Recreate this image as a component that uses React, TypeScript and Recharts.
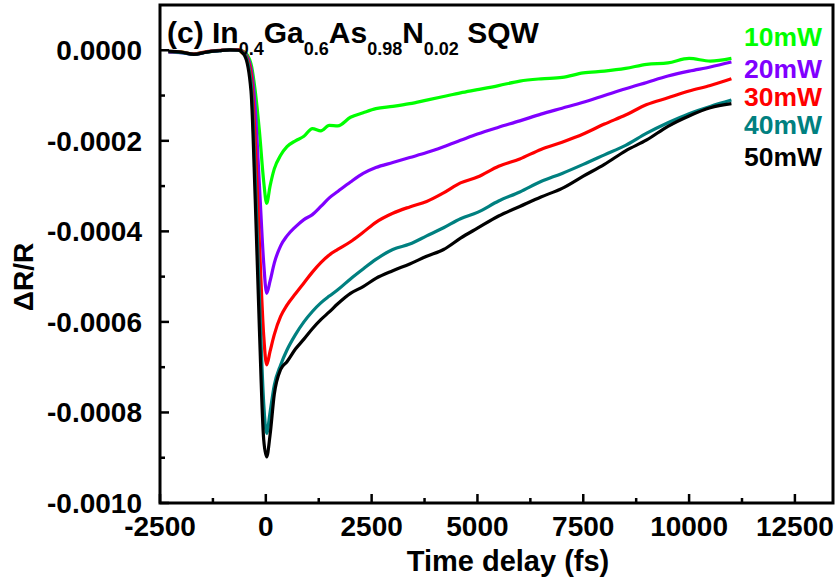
import React from 'react'
import { LineChart, Line, XAxis, YAxis, ReferenceArea } from 'recharts'

// pump-probe delay (fs)
const T = [
  -2300, -2000, -1700, -1400, -1100, -850, -650, -500, -350, -250, -150, -50, 20,
  100, 200, 350, 500, 700, 900, 1100, 1300, 1500, 1700, 2000, 2300, 2600, 3000,
  3400, 3800, 4200, 4600, 5000, 5500, 6000, 6500, 7000, 7500, 8000, 8500, 9000,
  9500, 10000, 10500, 11000,
]

// ΔR/R per pump power
const P10 = [
  -0.000003, -0.000004, -0.000008, -0.000004, -0.000001, 0.000001, 0.000001, -0.000004, -0.00003, -0.00009, -0.00018, -0.00029, -0.000338,
  -0.0003, -0.000262, -0.000232, -0.000213, -0.0002, -0.00019, -0.000173, -0.000178, -0.000166, -0.000167, -0.000148, -0.000138, -0.000129,
  -0.000124, -0.000118, -0.00011, -0.000102, -0.000094, -0.000087, -0.000078, -0.000068, -0.000063, -0.00006, -0.00005, -0.000046, -0.00004,
  -0.000031, -0.000028, -0.000018, -0.000024, -0.000018,
]
const P20 = [
  -0.000004, -0.000005, -0.000009, -0.000004, -0.000001, 0.000001, 0.000001, -0.000006, -0.00004, -0.00013, -0.0003, -0.00047, -0.000537,
  -0.00051, -0.00047, -0.000432, -0.00041, -0.00039, -0.000374, -0.000363, -0.000345, -0.000326, -0.000312, -0.000291, -0.000272, -0.000259,
  -0.000248, -0.000237, -0.000226, -0.000213, -0.000199, -0.000185, -0.00017, -0.000156, -0.000141, -0.000128, -0.000115, -0.0001, -0.000085,
  -0.000071, -0.000057, -0.000046, -0.000037, -0.000026,
]
const P30 = [
  -0.000003, -0.000004, -0.000008, -0.000003, 0, 0.000001, 0.000001, -0.000007, -0.00005, -0.0002, -0.00043, -0.00063, -0.000695,
  -0.000665, -0.000628, -0.000588, -0.000563, -0.000538, -0.000514, -0.00049, -0.000469, -0.000452, -0.00044, -0.000423, -0.000402, -0.00038,
  -0.00036, -0.000346, -0.000334, -0.000315, -0.000293, -0.00028, -0.000256, -0.00024, -0.000219, -0.000203, -0.000185, -0.000163, -0.000143,
  -0.00012, -0.000105, -0.00009, -0.000078, -0.000063,
]
const P40 = [
  -0.000003, -0.000005, -0.000009, -0.000004, -0.000001, 0.000001, 0, -0.000009, -0.00007, -0.00028, -0.00055, -0.00078, -0.000846,
  -0.0008, -0.00074, -0.000695, -0.000662, -0.000628, -0.0006, -0.000577, -0.000558, -0.000543, -0.000529, -0.000505, -0.000483, -0.000462,
  -0.00044, -0.000428, -0.00041, -0.000392, -0.000372, -0.000358, -0.000333, -0.000313, -0.00029, -0.000272, -0.000252, -0.000231, -0.00021,
  -0.000183, -0.00016, -0.00014, -0.000124, -0.00011,
]
const P50 = [
  -0.000002, -0.000004, -0.000009, -0.000004, -0.000001, 0.000001, 0, -0.000012, -0.00009, -0.00033, -0.00062, -0.00086, -0.000898,
  -0.00085, -0.00076, -0.000705, -0.000688, -0.00066, -0.000638, -0.000615, -0.000595, -0.000578, -0.00056, -0.000537, -0.000522, -0.000504,
  -0.000487, -0.000472, -0.000455, -0.00044, -0.000415, -0.000393, -0.000366, -0.000345, -0.000324, -0.000305, -0.000278, -0.000252, -0.000222,
  -0.000198, -0.000168, -0.000145, -0.000127, -0.000118,
]

const SERIES = [
  { key: 'p10', label: '10mW', color: '#00ff00', values: P10 },
  { key: 'p20', label: '20mW', color: '#8000ff', values: P20 },
  { key: 'p30', label: '30mW', color: '#ff0000', values: P30 },
  { key: 'p40', label: '40mW', color: '#008080', values: P40 },
  { key: 'p50', label: '50mW', color: '#000000', values: P50 },
]

const X_TICKS = [-2500, -1250, 0, 1250, 2500, 3750, 5000, 6250, 7500, 8750, 10000, 11250, 12500]
const Y_TICKS = [0, -0.0001, -0.0002, -0.0003, -0.0004, -0.0005, -0.0006, -0.0007, -0.0008, -0.0009, -0.001]
const X_DOMAIN = [-2500, 13400]
const Y_DOMAIN = [-0.001, 0.0001]

// legend label baselines
const LEGEND_Y = [46, 78, 106, 134, 166]

const FONT = '"Liberation Sans", Arial, sans-serif'

const rows = T.map((t, i) => {
  const row: Record<string, number> = { t }
  SERIES.forEach(s => { row[s.key] = s.values[i] })
  return row
})

// ticks point into the plot; only every other one gets a label
function XTick({ x, y, payload }: any) {
  const major = payload.value % 2500 === 0
  return (
    <g>
      <line x1={x} x2={x} y1={y} y2={y - (major ? 9 : 5)} stroke="#000" strokeWidth={2.5} />
      {major && (
        <text x={x} y={y + 13} dy="0.71em" textAnchor="middle" fontFamily={FONT} fontWeight="bold" fontSize={28} fill="#000">
          {payload.value}
        </text>
      )}
    </g>
  )
}

function YTick({ x, y, payload }: any) {
  const major = Math.round(Math.abs(payload.value) * 10000) % 2 === 0
  return (
    <g>
      <line x1={x} x2={x + (major ? 9 : 5)} y1={y} y2={y} stroke="#000" strokeWidth={2.5} />
      {major && (
        <text x={x - 18} y={y} dy="0.355em" textAnchor="end" fontFamily={FONT} fontWeight="bold" fontSize={28} fill="#000">
          {payload.value.toFixed(4)}
        </text>
      )}
    </g>
  )
}

export default function App() {
  return (
    <div style={{ position: 'absolute', left: 0, top: 0, width: 837, height: 583, background: '#fff' }}>
      <LineChart width={837} height={583} data={rows} margin={{ top: 5, right: 4, left: 100, bottom: 20 }}>
        <XAxis
          dataKey="t"
          type="number"
          domain={X_DOMAIN}
          ticks={X_TICKS}
          interval={0}
          allowDataOverflow
          height={60}
          axisLine={false}
          tickLine={false}
          tickSize={0}
          tickMargin={0}
          tick={<XTick />}
        />
        <YAxis
          type="number"
          domain={Y_DOMAIN}
          ticks={Y_TICKS}
          interval={0}
          allowDataOverflow
          width={60}
          axisLine={false}
          tickLine={false}
          tickSize={0}
          tickMargin={0}
          tick={<YTick />}
        />
        <ReferenceArea
          x1={X_DOMAIN[0]}
          x2={X_DOMAIN[1]}
          y1={Y_DOMAIN[0]}
          y2={Y_DOMAIN[1]}
          fill="none"
          fillOpacity={0}
          stroke="#000"
          strokeWidth={3}
        />
        {SERIES.map(s => (
          <Line
            key={s.key}
            dataKey={s.key}
            type="monotone"
            stroke={s.color}
            strokeWidth={3.2}
            dot={false}
            isAnimationActive={false}
          />
        ))}
      </LineChart>

      {/* title, legend and axis titles */}
      <svg width={837} height={583} style={{ position: 'absolute', left: 0, top: 0, pointerEvents: 'none' }}>
        <g fontFamily={FONT} fontWeight="bold" fill="#000">
          <text x={167} y={43} fontSize={30}>
            (c) In<tspan fontSize={18} dy={12}>0.4</tspan>
            <tspan dy={-12}>Ga</tspan><tspan fontSize={18} dy={12}>0.6</tspan>
            <tspan dy={-12}>As</tspan><tspan fontSize={18} dy={12}>0.98</tspan>
            <tspan dy={-12}>N</tspan><tspan fontSize={18} dy={12}>0.02</tspan>
            <tspan dy={-12}> SQW</tspan>
          </text>
          {SERIES.map((s, i) => (
            <text key={s.key} x={744} y={LEGEND_Y[i]} fontSize={25} fill={s.color} textLength={78} lengthAdjust="spacingAndGlyphs">{s.label}</text>
          ))}
          <text x={508} y={571} fontSize={29} textAnchor="middle">Time delay (fs)</text>
          <text x={33} y={277} fontSize={28} textAnchor="middle" transform="rotate(-90 33 277)">ΔR/R</text>
        </g>
      </svg>
    </div>
  )
}
